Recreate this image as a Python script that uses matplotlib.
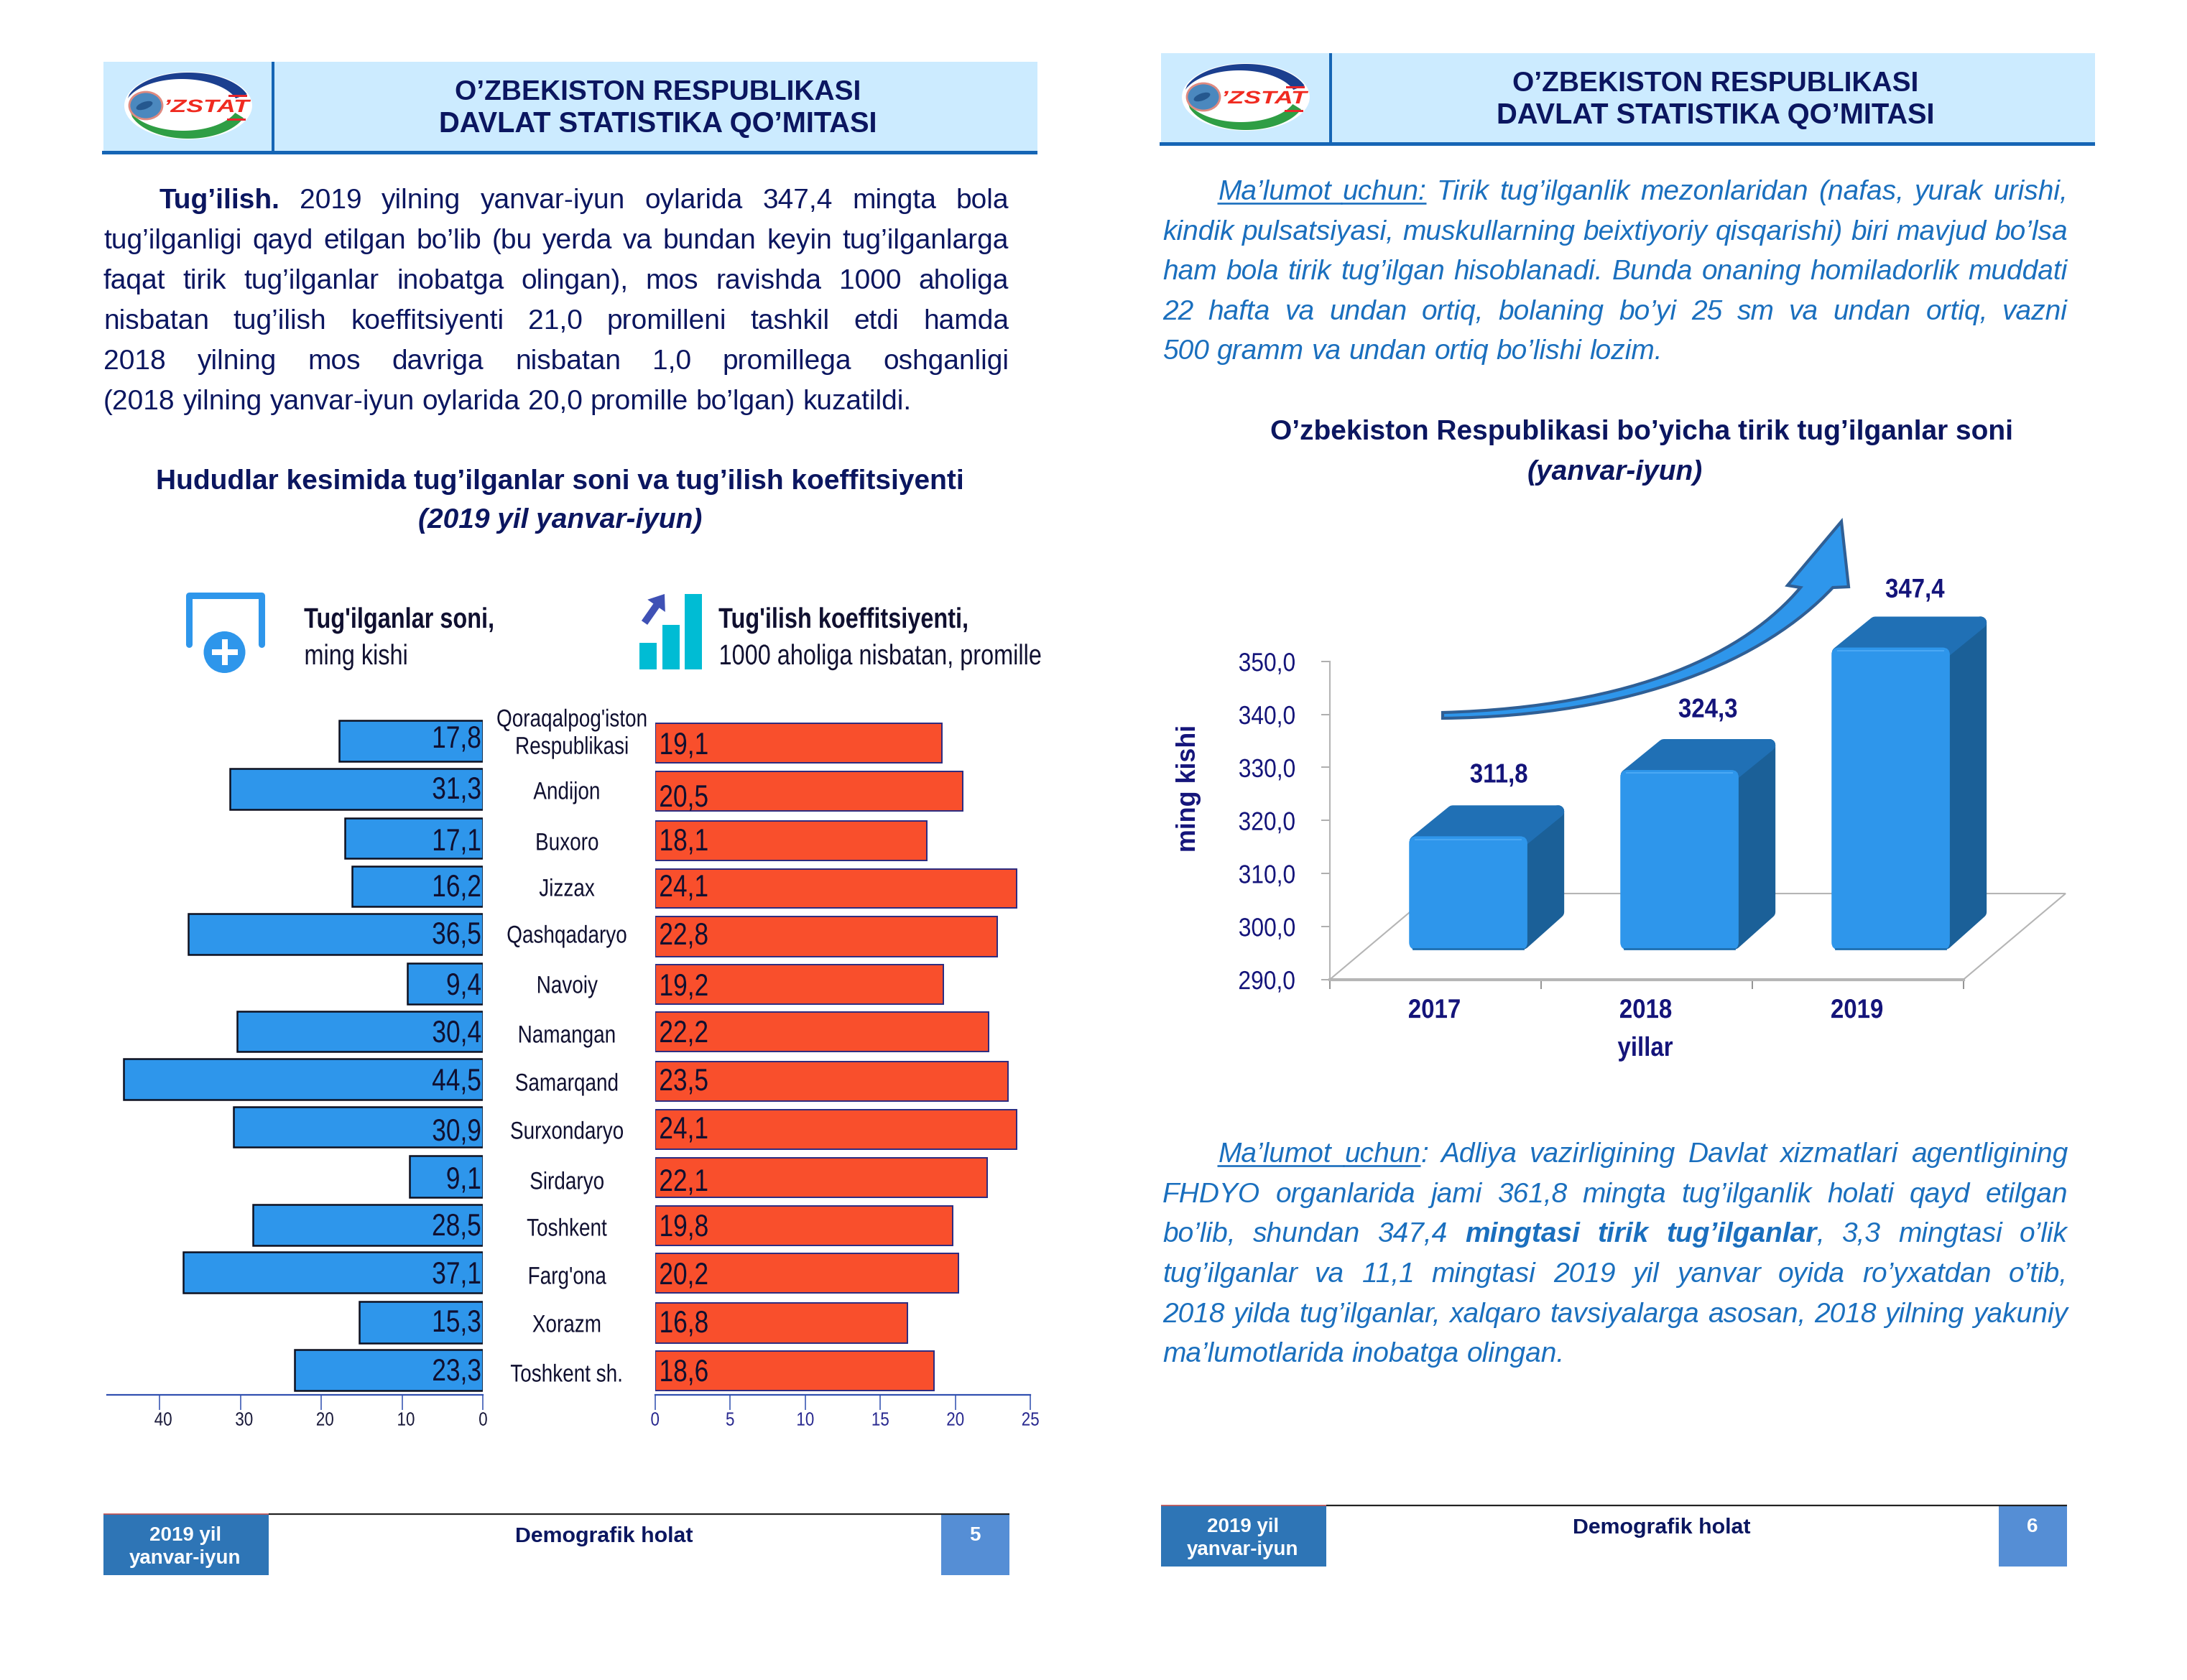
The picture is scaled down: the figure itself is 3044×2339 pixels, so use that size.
import numpy as np
import matplotlib
matplotlib.use('Agg')
import matplotlib.pyplot as plt
from matplotlib.patches import Rectangle, Polygon, Ellipse, Circle, FancyBboxPatch, PathPatch, FancyArrow
from matplotlib.patheffects import AbstractPathEffect
from matplotlib.path import Path
from matplotlib.transforms import Affine2D

W, H = 3044, 2339
SANS = 'Liberation Sans'
NAVY = '#0B1660'
BLUE_TXT = '#1A6FBE'
DARK = '#101030'
CHART_NAVY = '#14147A'

regions = ["Qoraqalpog'iston\nRespublikasi", 'Andijon', 'Buxoro', 'Jizzax', 'Qashqadaryo', 'Navoiy', 'Namangan',
           'Samarqand', 'Surxondaryo', 'Sirdaryo', 'Toshkent', "Farg'ona", 'Xorazm', 'Toshkent sh.']
births = [17.8, 31.3, 17.1, 16.2, 36.5, 9.4, 30.4, 44.5, 30.9, 9.1, 28.5, 37.1, 15.3, 23.3]
rate = [19.1, 20.5, 18.1, 24.1, 22.8, 19.2, 22.2, 23.5, 24.1, 22.1, 19.8, 20.2, 16.8, 18.6]
left_ticks = [40, 30, 20, 10, 0]
right_ticks = [0, 5, 10, 15, 20, 25]

years = ['2017', '2018', '2019']
year_births = [311.8, 324.3, 347.4]
y_ticks = [290, 300, 310, 320, 330, 340, 350]

# row layout of the hand placed pyramid, in reference pixels
left_top = [1003, 1070, 1139, 1206, 1272, 1341, 1408, 1474, 1541, 1609, 1677, 1743, 1812, 1879]
left_bot = [1060, 1127, 1195, 1262, 1329, 1398, 1464, 1531, 1597, 1667, 1734, 1800, 1870, 1936]
right_top = [1007, 1074, 1143, 1210, 1276, 1343, 1409, 1478, 1545, 1612, 1679, 1745, 1814, 1881]
right_bot = [1062, 1129, 1198, 1264, 1332, 1398, 1464, 1533, 1600, 1667, 1734, 1800, 1870, 1936]
left_lab = [1027, 1098, 1170, 1234, 1300, 1371, 1437, 1504, 1574, 1641, 1706, 1773, 1840, 1908]
right_lab = [1036, 1109, 1170, 1234, 1301, 1372, 1437, 1504, 1571, 1644, 1707, 1774, 1841, 1909]
name_y = [1022, 1104, 1175, 1239, 1304, 1374, 1443, 1510, 1577, 1647, 1712, 1779, 1846, 1915]

text_l = [
    [('Tug’ilish.', 'b'), '2019', 'yilning', 'yanvar-iyun', 'oylarida', '347,4', 'mingta', 'bola'],
    'tug’ilganligi qayd etilgan bo’lib (bu yerda va bundan keyin tug’ilganlarga'.split(),
    'faqat tirik tug’ilganlar inobatga olingan), mos ravishda 1000 aholiga'.split(),
    'nisbatan tug’ilish koeffitsiyenti 21,0 promilleni tashkil etdi hamda'.split(),
    '2018 yilning mos davriga nisbatan 1,0 promillega oshganligi'.split(),
    '(2018 yilning yanvar-iyun oylarida 20,0 promille bo’lgan) kuzatildi.'.split(),
]
text_r1 = [
    [('Ma’lumot', 'u'), ('uchun:', 'u')] + 'Tirik tug’ilganlik mezonlaridan (nafas, yurak urishi,'.split(),
    'kindik pulsatsiyasi, muskullarning beixtiyoriy qisqarishi) biri mavjud bo’lsa'.split(),
    'ham bola tirik tug’ilgan hisoblanadi. Bunda onaning homiladorlik muddati'.split(),
    '22 hafta va undan ortiq, bolaning bo’yi 25 sm va undan ortiq, vazni'.split(),
    '500 gramm va undan ortiq bo’lishi lozim.'.split(),
]
text_r2 = [
    [('Ma’lumot', 'u'), ('uchun', 'u'), ':'] + 'Adliya vazirligining Davlat xizmatlari agentligining'.split(),
    'FHDYO organlarida jami 361,8 mingta tug’ilganlik holati qayd etilgan'.split(),
    ['bo’lib,', 'shundan', '347,4', ('mingtasi', 'b'), ('tirik', 'b'), ('tug’ilganlar', 'b'), ',', '3,3', 'mingtasi', 'o’lik'],
    'tug’ilganlar va 11,1 mingtasi 2019 yil yanvar oyida ro’yxatdan o’tib,'.split(),
    '2018 yilda tug’ilganlar, xalqaro tavsiyalarga asosan, 2018 yilning yakuniy'.split(),
    'ma’lumotlarida inobatga olingan.'.split(),
]

fig = plt.figure(figsize=(W / 100, H / 100), dpi=100)
page = fig.add_axes([0, 0, 1, 1])
page.set_xlim(0, W)
page.set_ylim(H, 0)
page.axis('off')
renderer = fig.canvas.get_renderer()


class Squeeze(AbstractPathEffect):
    """Squeeze real text sideways, no narrow face is installed."""

    def __init__(self, sx, pivot='center'):
        super().__init__()
        self.sx = sx
        self.pivot = pivot

    def draw_path(self, renderer, gc, tpath, affine, rgbFace=None):
        box = tpath.get_extents(affine)
        px = {'left': box.x0, 'right': box.x1, 'center': (box.x0 + box.x1) / 2}[self.pivot]
        squeeze = Affine2D().translate(-px, 0).scale(self.sx, 1).translate(px, 0)
        renderer.draw_path(gc, tpath, affine + squeeze, rgbFace)


def px_axes(x0, x1, ytop, ybot):
    ax = fig.add_axes([x0 / W, 1 - ybot / H, (x1 - x0) / W, (ybot - ytop) / H])
    ax.patch.set_alpha(0)
    return ax


def crescent(cx, cy, rx, ry, cx2, cy2, rx2, ry2, a0, a1, color):
    t = np.radians(np.linspace(a0, a1, 60))
    outer = np.c_[cx + rx * np.cos(t), cy - ry * np.sin(t)]
    inner = np.c_[cx2 + rx2 * np.cos(t[::-1]), cy2 - ry2 * np.sin(t[::-1])]
    page.add_patch(Polygon(np.r_[outer, inner], fc=color, ec='none'))


def draw_logo(dx, dy):
    cx, cy = 262 + dx, 147 + dy
    page.add_patch(Ellipse((cx, cy), 178, 94, fc='white', ec='none'))
    crescent(cx, cy, 87, 46, cx - 9, cy + 4, 80, 41, 20, 160, '#1B3F8F')
    crescent(cx, cy, 83, 46, cx - 7, cy - 5, 78, 40, 200, 338, '#2F9E44')
    page.add_patch(Rectangle((cx + 56, cy - 15), 26, 2.5, fc='#E8262B', ec='none'))
    page.add_patch(Rectangle((cx + 54, cy + 18), 26, 2.5, fc='#E8262B', ec='none'))
    page.add_patch(Ellipse((cx - 59, cy), 46, 38, fc='#4B88BE', ec='#E08A80', lw=2))
    page.add_patch(Ellipse((cx - 61, cy), 24, 10, fc='#25588F', ec='none', angle=-20))
    page.text(cx + 26, cy + 9, '’ZSTAT', color='#F02A20', fontsize=18, family=SANS, weight='bold', style='italic',
              ha='center', path_effects=[Squeeze(1.42)])


def draw_header(dx, dy):
    page.add_patch(Rectangle((144 + dx, 86 + dy), 1300, 126, fc='#CCEBFF', ec='none'))
    page.add_patch(Rectangle((142 + dx, 210 + dy), 1302, 5, fc='#1565B5', ec='none'))
    page.add_patch(Rectangle((378 + dx, 86 + dy), 4, 128, fc='#1565B5', ec='none'))
    page.text(916 + dx, 139 + dy, 'O’ZBEKISTON RESPUBLIKASI', color=NAVY, fontsize=FS_BODY, family=SANS,
              weight='bold', ha='center')
    page.text(916 + dx, 184 + dy, 'DAVLAT STATISTIKA QO’MITASI', color=NAVY, fontsize=28.7, family=SANS,
              weight='bold', ha='center')
    draw_logo(dx, dy)


def draw_footer(dx, dy, num):
    page.plot([374 + dx, 1405 + dx], [2108 + dy, 2108 + dy], color='#222222', lw=1.6, solid_capstyle='butt')
    page.add_patch(Rectangle((144 + dx, 2108 + dy), 230, 85, fc='#2E75B6', ec='none'))
    page.add_patch(Rectangle((1310 + dx, 2108 + dy), 95, 85, fc='#558ED5', ec='none'))
    page.plot([144 + dx, 374 + dx], [2108 + dy, 2108 + dy], color='#C05050', lw=1.2, solid_capstyle='butt')
    for txt, y in (('2019 yil', 2145), ('yanvar-iyun', 2177)):
        page.text(258 + dx, y + dy, txt, color='white', fontsize=20, family=SANS, weight='bold', ha='center')
    page.text(841 + dx, 2147 + dy, 'Demografik holat', color=NAVY, fontsize=21.9, family=SANS, weight='bold', ha='center')
    page.text(1357 + dx, 2145 + dy, num, color='white', fontsize=20, family=SANS, weight='bold', ha='center')


def word_style(word):
    return word if isinstance(word, tuple) else (word, '')


def justify(lines, x0, x1, indent, y0, step, color, italic=False):
    for n, words in enumerate(lines):
        y = y0 + n * step
        left = x0 + indent if n == 0 else x0
        items = []
        for w in words:
            txt, st = word_style(w)
            t = page.text(left, y, txt, color=color, fontsize=FS_BODY, family=SANS, ha='left',
                          weight='bold' if st == 'b' else 'normal', style='italic' if italic else 'normal')
            items.append((t, t.get_window_extent(renderer).width, st))
        total = sum(i[1] for i in items)
        # a lone comma or colon is glued to the word before it
        gaps = sum(1 for t, _, _ in items[1:] if t.get_text() not in (',', ':'))
        space = FS_BODY * 100 / 72 * 0.278
        if n < len(lines) - 1:
            space = (x1 - left - total) / gaps
        x = left
        for k, (t, w, st) in enumerate(items):
            if k and t.get_text() not in (',', ':'):
                x += space
            t.set_x(x)
            if st == 'u':
                end = x + w + (space if k + 1 < len(items) and items[k + 1][2] == 'u' else 0)
                page.plot([x - 2, end], [y + 5, y + 5], color=color, lw=1.9, solid_capstyle='butt')
            x += w


FS_BODY = 28
DX, DY = 1472, -12

draw_header(0, 0)
draw_header(DX, DY)
draw_footer(0, 0, '5')
draw_footer(DX, DY, '6')

justify(text_l, 144, 1404, 78, 290, 56, NAVY)
page.text(779, 681, 'Hududlar kesimida tug’ilganlar soni va tug’ilish koeffitsiyenti', color=NAVY, fontsize=FS_BODY,
          family=SANS, weight='bold', ha='center')
page.text(780, 735, '(2019 yil yanvar-iyun)', color=NAVY, fontsize=FS_BODY, family=SANS, weight='bold', style='italic',
          ha='center')
justify(text_r1, 1618, 2878, 78, 278, 55.6, BLUE_TXT, italic=True)
justify(text_r2, 1618, 2878, 78, 1618, 55.7, BLUE_TXT, italic=True)
page.text(2285, 612, 'O’zbekiston Respublikasi bo’yicha tirik tug’ilganlar soni', color=NAVY, fontsize=FS_BODY,
          family=SANS, weight='bold', ha='center')
page.text(2248, 668, '(yanvar-iyun)', color=NAVY, fontsize=FS_BODY, family=SANS, weight='bold', style='italic', ha='center')

# legend icons of the pyramid
ICON = '#2E96EB'
page.plot([263, 263, 364, 364], [897, 829, 829, 897], color=ICON, lw=6.5, solid_joinstyle='round', solid_capstyle='round')
page.add_patch(Circle((312.5, 905), 36, fc='white', ec='none'))
page.add_patch(Circle((312.5, 908), 29, fc=ICON, ec='none'))
page.add_patch(Rectangle((308.5, 890), 8, 36, fc='white', ec='none'))
page.add_patch(Rectangle((294.5, 904), 36, 8, fc='white', ec='none'))
for x0, ytop in ((890, 895), (921.5, 870), (953, 827)):
    page.add_patch(Rectangle((x0, ytop), 24, 932 - ytop, fc='#00BCD4', ec='none'))
page.add_patch(FancyArrow(897, 867, 28, -40, width=10, head_width=30, head_length=20, length_includes_head=True,
                          fc='#3F51B5', ec='none'))
for txt, x, y, wt in (("Tug'ilganlar soni,", 423, 874, 'bold'), ('ming kishi', 423, 925, 'normal'),
                      ("Tug'ilish koeffitsiyenti,", 1000, 874, 'bold'),
                      ('1000 aholiga nisbatan, promille', 1000, 925, 'normal')):
    page.text(x, y, txt, color=DARK, fontsize=28.5, family=SANS, weight=wt, path_effects=[Squeeze(0.82, 'left')])

# pyramid, left half
ax_l = px_axes(149, 672.4, 990, 1942)
ax_l.set_xlim(46.5, 0)
ax_l.set_ylim(1942, 990)
left_c = (np.array(left_top) + np.array(left_bot)) / 2
left_h = np.array(left_bot) - np.array(left_top)
ax_l.barh(left_c, births, height=left_h, color='#2E96EB', edgecolor='#0D1020', linewidth=1.8)
for v, y in zip(births, left_lab):
    ax_l.text(0.2, y + 14, f'{v:.1f}'.replace('.', ','), color=DARK, fontsize=31, family=SANS, ha='right',
              path_effects=[Squeeze(0.82, 'right')])
ax_l.set_xticks(left_ticks)
ax_l.set_yticks([])
for s in ('top', 'left', 'right'):
    ax_l.spines[s].set_visible(False)
ax_l.spines['bottom'].set_color('#3050B0')
ax_l.spines['bottom'].set_linewidth(1.6)
ax_l.tick_params(axis='x', length=15, width=1.1, color='#3050B0', labelsize=19, labelcolor='#1A1A3A', pad=2)
for v, lb in zip(left_ticks, ax_l.get_xticklabels()):
    lb.set_family(SANS)
    lb.set_path_effects([Squeeze(0.85)])
    if v:
        # these labels sit a little right of their ticks
        lb.set_transform(lb.get_transform() + Affine2D().translate(5, 0))

# pyramid, right half
ax_r = px_axes(911.7, 1434.2, 990, 1942)
ax_r.set_xlim(0, 25)
ax_r.set_ylim(1942, 990)
right_c = (np.array(right_top) + np.array(right_bot)) / 2
right_h = np.array(right_bot) - np.array(right_top)
ax_r.barh(right_c, rate, height=right_h, color='#F94F2C', edgecolor='#2A2A80', linewidth=1.4)
for v, y in zip(rate, right_lab):
    ax_r.text(0.25, y + 14, f'{v:.1f}'.replace('.', ','), color=DARK, fontsize=31, family=SANS, ha='left',
              path_effects=[Squeeze(0.82, 'left')])
ax_r.set_xticks(right_ticks)
ax_r.set_yticks([])
for s in ('top', 'left', 'right'):
    ax_r.spines[s].set_visible(False)
ax_r.spines['bottom'].set_color('#3050B0')
ax_r.spines['bottom'].set_linewidth(1.6)
ax_r.tick_params(axis='x', length=15, width=1.1, color='#3050B0', labelsize=19, labelcolor='#2A2A90', pad=2)
for lb in ax_r.get_xticklabels():
    lb.set_family(SANS)
    lb.set_path_effects([Squeeze(0.85)])

for i, (name, y) in enumerate(zip(regions, name_y)):
    page.text(796 if i == 0 else 789, y, name, color=DARK, fontsize=24.5, family=SANS, ha='center', va='center',
              linespacing=1.3, path_effects=[Squeeze(0.82)])

# 3d looking column chart
ax_c = px_axes(1851, 2733, 920.7, 1363.6)
ax_c.set_xlim(0, 3)
ax_c.set_ylim(290, 350)
ax_c.set_xticks([0, 1, 2, 3])
ax_c.set_xticklabels([])
ax_c.set_yticks(y_ticks)
ax_c.set_yticklabels([f'{v},0' for v in y_ticks], family=SANS, fontsize=26, color=CHART_NAVY)
for lb in ax_c.get_yticklabels():
    lb.set_path_effects([Squeeze(0.88, 'right')])
for s in ('top', 'right'):
    ax_c.spines[s].set_visible(False)
for s in ('left', 'bottom'):
    ax_c.spines[s].set_color('#B5B5B5')
ax_c.spines['left'].set_linewidth(1.5)
ax_c.spines['bottom'].set_linewidth(3)
ax_c.tick_params(axis='y', length=8.4, width=1.2, color='#A0A0A0', pad=26)
ax_c.tick_params(axis='x', length=9.4, width=1.2, color='#808080')

ax_c.add_patch(Polygon([(0, 290), (0.483, 306.2), (3.483, 306.2), (3, 290)], closed=False, fc='none', ec='#B5B5B5', lw=1.5,
                       clip_on=False, zorder=1))
depth_x, depth_y = 0.176, 5.9
floor_lift = 5.2
bar_w = 0.56
r_x, r_y = 0.03, 1.2
aspect = (1 / 7.38) / (1 / 294)
for i, (yr, v) in enumerate(zip(years, year_births)):
    x0 = i + 0.375
    x1 = x0 + bar_w
    base = 290 + 5.6
    top = v + floor_lift
    ax_c.add_patch(Polygon([(x1 - 0.02, top - 1), (x1 + depth_x - r_x, top + depth_y - r_y),
                            (x1 + depth_x - r_x, base + depth_y + r_y), (x1 - 0.02, base + r_y)],
                           fc='#1B6098', ec='#1B6098', lw=12, joinstyle='round', clip_on=False, zorder=3))
    ax_c.add_patch(Polygon([(x0 + r_x, top - 1), (x0 + depth_x + r_x, top + depth_y - r_y), (x1 + depth_x - r_x, top + depth_y - r_y),
                            (x1 - r_x, top - 1)],
                           fc='#2070B5', ec='#2070B5', lw=12, joinstyle='round', clip_on=False, zorder=3))
    ax_c.add_patch(FancyBboxPatch((x0, base), bar_w, top - base, boxstyle='round,pad=0,rounding_size=0.035',
                                  mutation_aspect=aspect, fc='#2E96EB', ec='none', clip_on=False, zorder=4))
    ax_c.plot([x0 + 0.02, x1 - 0.02], [base + 0.15, base + 0.15], color='#1F6FB0', lw=2, clip_on=False, zorder=5)
    ax_c.plot([x0 + 0.03, x1 - 0.03], [top - 0.6, top - 0.6], color='#4AA8F4', lw=1.5, clip_on=False, zorder=5)
    off = {0: (0.8, 16.7), 1: (0.79, 16.5), 2: (0.77, 16.0)}[i]
    ax_c.text(i + off[0], v + off[1], f'{v:.1f}'.replace('.', ','), color=CHART_NAVY, fontsize=27, family=SANS, weight='bold',
              ha='center', va='center', clip_on=False, path_effects=[Squeeze(0.88)])
    ax_c.text(i + 0.495, 284.1, yr, color=CHART_NAVY, fontsize=27, family=SANS, weight='bold', ha='center', va='center',
              clip_on=False, path_effects=[Squeeze(0.88)])
page.text(2290, 1460, 'yillar', color=CHART_NAVY, fontsize=27, family=SANS, weight='bold', ha='center', va='center',
          path_effects=[Squeeze(0.88)])
page.text(1655, 1097, 'ming kishi', color=CHART_NAVY, fontsize=25.8, family=SANS, weight='bold', rotation=90, ha='center', va='center')

# growth arrow
verts = [(2008, 992), (2279, 984), (2430, 908), (2506, 818), (2488, 815), (2563, 726), (2573, 817), (2551, 818),
         (2457, 918), (2279, 997), (2008, 1000), (2008, 992)]
codes = [Path.MOVETO, Path.CURVE4, Path.CURVE4, Path.CURVE4, Path.LINETO, Path.LINETO, Path.LINETO, Path.LINETO,
         Path.CURVE4, Path.CURVE4, Path.CURVE4, Path.CLOSEPOLY]
page.add_patch(PathPatch(Path(verts, codes), fc='#2E96EB', ec='#2F5F95', lw=3, joinstyle='miter', zorder=5))

fig.savefig('out.png', dpi=100)
